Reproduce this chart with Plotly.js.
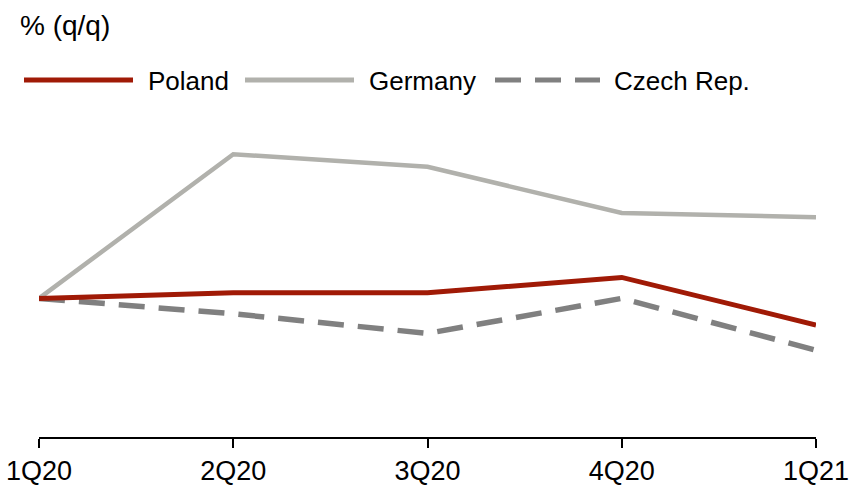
<!DOCTYPE html>
<html><head><meta charset="utf-8">
<script src="https://cdn.plot.ly/plotly-3.0.1.min.js"></script>
<style>html,body{margin:0;padding:0;background:#fff}#chart{width:854px;height:490px}</style>
</head><body><div id="chart"></div>
<script>
const categories = ["1Q20","2Q20","3Q20","4Q20","1Q21"];
const poland  = [0, 0.4, 0.4, 1.5, -1.9];
const germany = [0, 10.3, 9.4, 6.1, 5.8];
const czech   = [0, -1.1, -2.5, 0, -3.7];
const seriesNames = ["Poland","Germany","Czech Rep."];
const FONT = '"Liberation Sans Narrow", "Arial Narrow", "Liberation Sans", Arial, sans-serif';
const colors = ["#A01A06", "#B1B1AC", "#808080"];

const traces = [
  {x: categories, y: germany, name: seriesNames[1], mode: "lines", line: {color: colors[1], width: 4.5}},
  {x: categories, y: czech, name: seriesNames[2], mode: "lines", line: {color: colors[2], width: 5.5, dash: "26px,14px"}},
  {x: categories, y: poland, name: seriesNames[0], mode: "lines", line: {color: colors[0], width: 5}}
];

// custom legend (paper coords: x=(px-39)/777, y=(437-py)/308)
const px = p => (p - 39) / 777;
const py = p => (437 - p) / 308;
const legendItems = [
  {name: seriesNames[0], x0: 24, x1: 133, tx: 146, color: colors[0], dash: "solid"},
  {name: seriesNames[1], x0: 245, x1: 354, tx: 367, color: colors[1], dash: "solid"},
  {name: seriesNames[2], x0: 495, x1: 600, tx: 612, color: colors[2], dash: "26px,14px"}
];
const shapes = legendItems.map(it => ({
  type: "line", xref: "paper", yref: "paper",
  x0: px(it.x0), x1: px(it.x1), y0: py(80), y1: py(80),
  line: {color: it.color, width: 5, dash: it.dash}
}));
const annotations = legendItems.map(it => ({
  xref: "paper", yref: "paper", x: px(it.tx), y: py(81),
  xanchor: "left", yanchor: "middle", showarrow: false,
  text: it.name, font: {family: FONT, size: 26, color: "#000"}
}));
annotations.push({
  xref: "paper", yref: "paper", x: px(18), y: py(26),
  xanchor: "left", yanchor: "middle", showarrow: false,
  text: "% (q/q)", font: {family: FONT, size: 28, color: "#000"}
});

const layout = {
  width: 854, height: 490,
  margin: {l: 39, r: 38, t: 129, b: 53},
  paper_bgcolor: "#fff", plot_bgcolor: "#fff",
  showlegend: false,
  font: {family: FONT, size: 28, color: "#000"},
  xaxis: {
    type: "category", range: [0, 4], showgrid: false, zeroline: false,
    showline: true, linecolor: "#000", linewidth: 2,
    ticks: "outside", ticklen: 9, tickwidth: 2, tickcolor: "#000",
    tickfont: {family: FONT, size: 27, color: "#000"}
  },
  yaxis: {range: [-9.9, 12.1], visible: false, showgrid: false, zeroline: false},
  shapes: shapes,
  annotations: annotations
};
Plotly.newPlot("chart", traces, layout, {displayModeBar: false, staticPlot: true});
</script></body></html>
